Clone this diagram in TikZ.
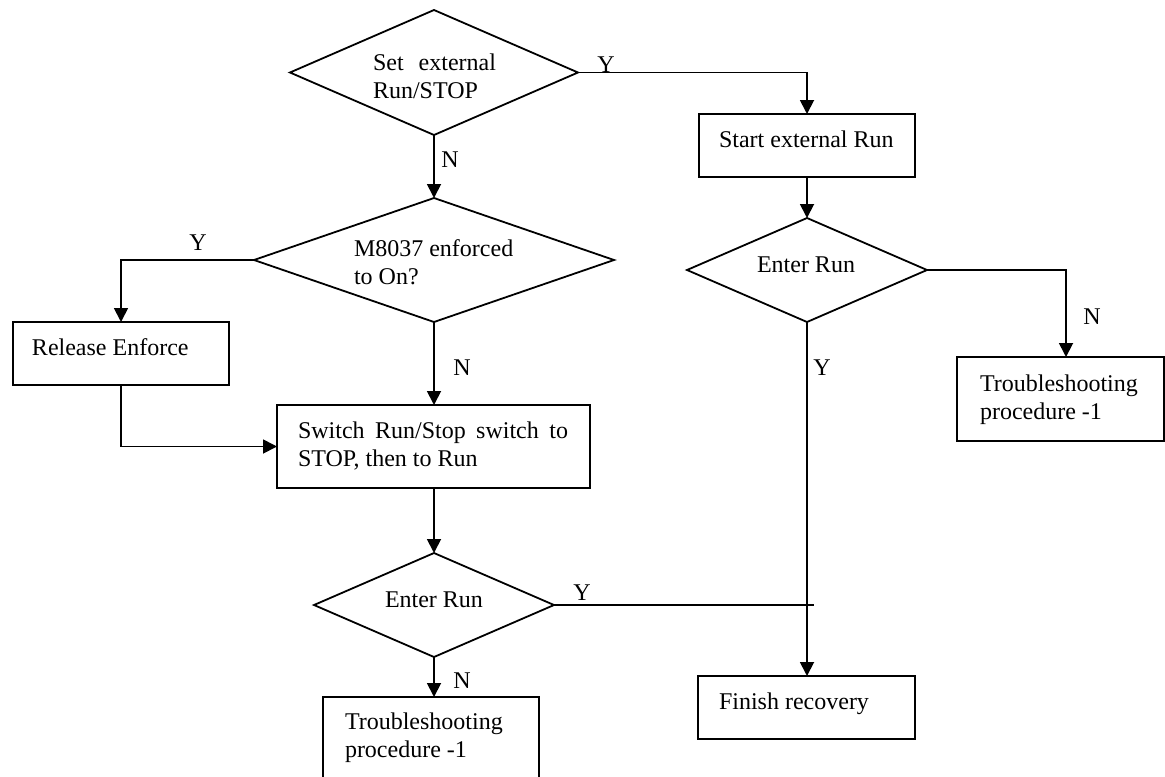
\documentclass[tikz,border=0pt]{standalone}
\usepackage{fontspec}
\setmainfont{Liberation Serif}
\usetikzlibrary{shapes.geometric,arrows.meta}
\newcommand{\mytwo}[2]{\vtop{\hbox{#1}\hbox{#2}}}
\begin{document}
\begin{tikzpicture}[x=0.5pt,y=-0.5pt,
  every node/.style={font=\fontsize{12pt}{14pt}\selectfont},
  box/.style={draw,line width=0.9pt,inner sep=0pt,outer sep=0pt},
  dec/.style={draw,diamond,line width=0.9pt,inner sep=0pt,outer sep=0pt},
  txt/.style={inner sep=0pt,outer sep=0pt,anchor=base west},
  lbl/.style={inner sep=0pt,outer sep=0pt,anchor=base},
  conn/.style={line width=0.9pt},
  arr/.style={conn,-{Triangle[width=7pt,length=7pt]}}]
\useasboundingbox (0,0) rectangle (1165,776);
\clip (0,0) rectangle (1165,776);

% shapes
\node[dec,minimum width=144pt,minimum height=62.5pt] (d1) at (434,72.5) {};
\node[dec,minimum width=120pt,minimum height=52pt] (d2) at (807,270) {};
\node[dec,minimum width=180pt,minimum height=62pt] (d3) at (434,260) {};
\node[dec,minimum width=120pt,minimum height=52pt] (d4) at (434,605) {};

\node[box,minimum width=108pt,minimum height=31.5pt] (start) at (807,145.5) {};
\node[box,minimum width=108pt,minimum height=31.5pt] (release) at (121,353.5) {};
\node[box,minimum width=156.5pt,minimum height=41.5pt] (switch) at (433.5,446.5) {};
\node[box,minimum width=103.5pt,minimum height=42pt] (tsr) at (1060.5,399) {};
\node[box,minimum width=108pt,minimum height=51.5pt] (tsb) at (431,748.5) {};
\node[box,minimum width=108.5pt,minimum height=31.5pt] (finish) at (806.5,707.5) {};

% texts
\node[txt] (t1) at (373,70) {\mytwo{\makebox[61.5pt][s]{Set external}}{Run/STOP}};
\node[txt] (t2) at (757,272) {Enter Run};
\node[txt] (t3) at (354,256) {\mytwo{M8037 enforced}{to On?}};
\node[txt] (t4) at (385,607) {Enter Run};
\node[txt] (t5) at (719,147) {Start external Run};
\node[txt] (t6) at (32,355) {Release Enforce};
\node[txt] (t7) at (298,438) {\mytwo{\makebox[135pt][s]{Switch Run/Stop switch to}}{STOP, then to Run}};
\node[txt] (t8) at (980,391) {\mytwo{Troubleshooting}{procedure -1}};
\node[txt] (t9) at (345,729) {\mytwo{Troubleshooting}{procedure -1}};
\node[txt] (t10) at (719,709) {Finish recovery};

% connectors
\draw[arr] (d1.east) -| (start.north);
\draw[arr] (d1.south) -- (d3.north);
\draw[arr] (start.south) -- (d2.north);
\coordinate (c1) at (1066,270);
\draw[arr] (d2.east) -- (c1) -- (c1 |- tsr.north);
\draw[arr] (d2.south) -- (d2.south |- finish.north);
\draw[arr] (d3.west) -| (release.north);
\draw[arr] (d3.south) -- (d3.south |- switch.north);
\draw[arr] (release.south) |- (switch.west);
\draw[arr] (d4.north |- switch.south) -- (d4.north);
\coordinate (c2) at (814,605);
\draw[conn] (d4.east) -- (c2);
\draw[arr] (d4.south) -- (d4.south |- tsb.north);

% labels
\node[lbl] (l1) at (606,72) {Y};
\node[lbl] (l2) at (450,167) {N};
\node[lbl] (l3) at (198,250) {Y};
\node[lbl] (l4) at (462,375) {N};
\node[lbl] (l5) at (1092,324) {N};
\node[lbl] (l6) at (822,375) {Y};
\node[lbl] (l7) at (582,600) {Y};
\node[lbl] (l8) at (462,688) {N};
\end{tikzpicture}
\end{document}
